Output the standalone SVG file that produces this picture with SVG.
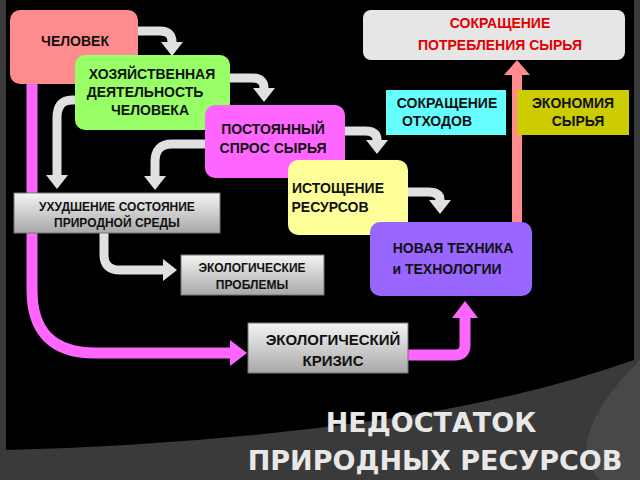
<svg xmlns="http://www.w3.org/2000/svg" width="640" height="480" viewBox="0 0 640 480">
<defs>
<linearGradient id="g" x1="0" y1="0" x2="0" y2="1"><stop offset="0" stop-color="#f4f4f4"/><stop offset="1" stop-color="#a8a8a8"/></linearGradient>
<marker id="ag" viewBox="0 -12 15 24" refX="0" refY="0" markerWidth="15" markerHeight="24" markerUnits="userSpaceOnUse" orient="auto"><path d="M0,-11 L14,0 L0,11z" fill="#e0e0e0"/></marker>
<marker id="ap" viewBox="0 -14 18 28" refX="0" refY="0" markerWidth="18" markerHeight="28" markerUnits="userSpaceOnUse" orient="auto"><path d="M0,-13 L17,0 L0,13z" fill="#ff66ff"/></marker>
<marker id="as" viewBox="0 -14 16 28" refX="0" refY="0" markerWidth="16" markerHeight="28" markerUnits="userSpaceOnUse" orient="auto"><path d="M0,-13 L15,0 L0,13z" fill="#ff8c8c"/></marker>
</defs>
<style>
text{font-family:"Liberation Sans",Arial,sans-serif;font-weight:bold;font-size:14px;fill:#111;text-anchor:middle}
.box{fill:url(#g);stroke:#777;stroke-width:1}
.gr{fill:none;stroke:#e0e0e0;stroke-width:9}
.pk{fill:none;stroke:#ff66ff;stroke-width:11}
.t{font-family:"DejaVu Sans",sans-serif;font-size:27px;fill:#e8e8e8}
</style>
<rect width="640" height="480" fill="#3a3a3a"/>
<path d="M6,0 H634 V360 Q520 400 380 420 Q200 445 6 450 Z" fill="#000"/>
<path d="M640,360 Q560 440 600 480 H640 Z" fill="#555" opacity="0.5"/>
<g id="connectors">
<path class="gr" d="M138,31 H160 Q172,31 172,42" marker-end="url(#ag)"/>
<path class="gr" d="M230,78 H252 Q264,78 264,88" marker-end="url(#ag)"/>
<path class="gr" d="M345,131 H365 Q377,131 377,140" marker-end="url(#ag)"/>
<path class="gr" d="M408,192 H428 Q440,192 440,200" marker-end="url(#ag)"/>
<path class="gr" d="M75,100 H72 Q57,100 57,118 V175" marker-end="url(#ag)"/>
<path class="gr" d="M205,144 H172 Q155,144 155,162 V176" marker-end="url(#ag)"/>
<path class="gr" d="M104,233 V255 Q104,270 120,270 H163" marker-end="url(#ag)"/>
<path class="pk" d="M32,84 V290 Q32,353 95,353 H230" marker-end="url(#ap)"/>
<path class="pk" d="M408,355 H455 Q465,355 465,345 V318" marker-end="url(#ap)"/>
<path d="M517,222 V75" fill="none" stroke="#ff8c8c" stroke-width="10" marker-end="url(#as)"/>
</g>
<g id="chelovek"><rect x="10" y="10" width="128" height="74" rx="10" fill="#ff8c8c"/><text x="75" y="46">ЧЕЛОВЕК</text></g>
<g id="hoz"><rect x="75" y="55" width="155" height="75" rx="10" fill="#99ff66"/><text x="152" y="79">ХОЗЯЙСТВЕННАЯ</text><text x="145" y="97">ДЕЯТЕЛЬНОСТЬ</text><text x="150" y="115">ЧЕЛОВЕКА</text></g>
<g id="spros"><rect x="205" y="105" width="140" height="73" rx="10" fill="#ff66ff"/><text x="273" y="134">ПОСТОЯННЫЙ</text><text x="273" y="153">СПРОС СЫРЬЯ</text></g>
<g id="ist"><rect x="288" y="160" width="120" height="75" rx="10" fill="#ffff99"/><text x="338" y="193">ИСТОЩЕНИЕ</text><text x="330" y="212">РЕСУРСОВ</text></g>
<g id="nova"><rect x="370" y="222" width="162" height="74" rx="10" fill="#9966ff"/><text x="453" y="253">НОВАЯ ТЕХНИКА</text><text x="447" y="274">и ТЕХНОЛОГИИ</text></g>
<g id="sokr"><rect x="363" y="10" width="262" height="50" rx="8" fill="#e6e6e6"/><text x="500" y="28" style="fill:#e00000">СОКРАЩЕНИЕ</text><text x="500" y="50" style="fill:#e00000">ПОТРЕБЛЕНИЯ СЫРЬЯ</text></g>
<g id="othod"><rect x="386" y="90" width="120" height="45" fill="#66ffff"/><text x="447" y="108">СОКРАЩЕНИЕ</text><text x="437" y="126">ОТХОДОВ</text></g>
<g id="ekon"><rect x="517" y="90" width="112" height="45" fill="#cccc00"/><text x="573" y="108">ЭКОНОМИЯ</text><text x="578" y="126">СЫРЬЯ</text></g>
<g id="uhud"><rect x="14" y="193" width="206" height="40" class="box"/><text x="117" y="211" style="font-size:12px">УХУДШЕНИЕ  СОСТОЯНИЕ</text><text x="117" y="227" style="font-size:12px">ПРИРОДНОЙ СРЕДЫ</text></g>
<g id="probl"><rect x="181" y="255" width="143" height="40" class="box"/><text x="252" y="272" style="font-size:12px">ЭКОЛОГИЧЕСКИЕ</text><text x="252" y="289" style="font-size:12px">ПРОБЛЕМЫ</text></g>
<g id="krizis"><rect x="248" y="323" width="160" height="50" class="box"/><text x="333" y="345" style="font-size:15px">ЭКОЛОГИЧЕСКИЙ</text><text x="333" y="366" style="font-size:15px">КРИЗИС</text></g>
<g id="title"><text x="431" y="432" class="t">НЕДОСТАТОК</text><text x="435" y="470" class="t">ПРИРОДНЫХ РЕСУРСОВ</text></g>
</svg>
